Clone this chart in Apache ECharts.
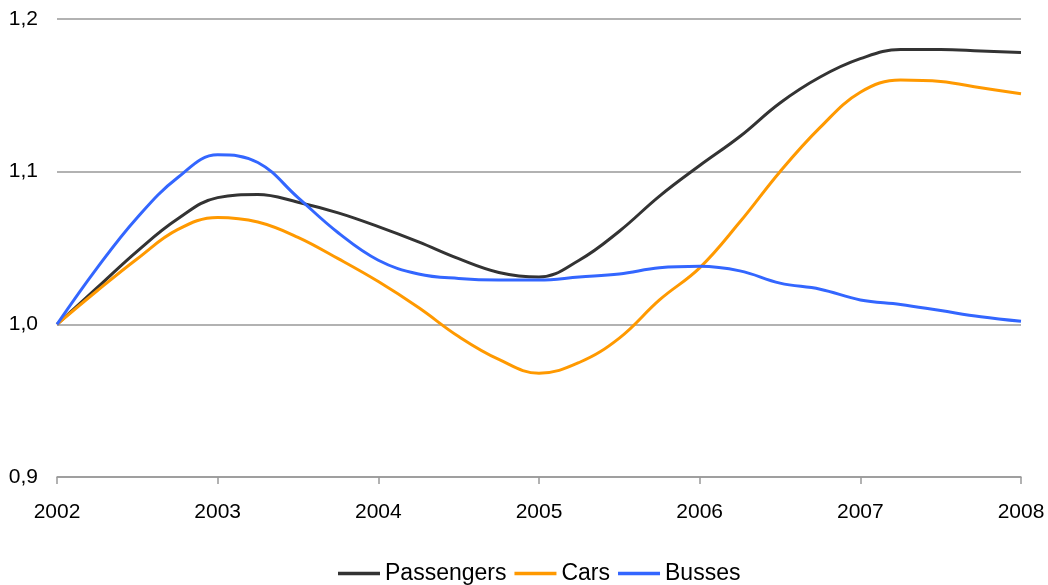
<!DOCTYPE html>
<html>
<head>
<meta charset="utf-8">
<script src="https://cdn.jsdelivr.net/npm/echarts@6/dist/echarts.min.js"></script>
<style>html,body{margin:0;padding:0;background:#fff}#c{width:1048px;height:585px}</style>
</head>
<body>
<div id="c"></div>
<script>
var years = [2002,2002.25,2002.5,2002.75,2003,2003.25,2003.5,2003.75,2004,2004.25,2004.5,2004.75,2005,2005.25,2005.5,2005.75,2006,2006.25,2006.5,2006.75,2007,2007.25,2007.5,2007.75,2008];
var passengers = [1.000,1.024,1.048,1.069,1.083,1.085,1.080,1.073,1.064,1.054,1.043,1.034,1.031,1.042,1.061,1.084,1.104,1.123,1.145,1.162,1.174,1.180,1.180,1.179,1.178];
var cars = [1.000,1.022,1.043,1.062,1.070,1.067,1.057,1.043,1.028,1.011,0.992,0.977,0.968,0.975,0.991,1.016,1.037,1.067,1.100,1.129,1.152,1.160,1.159,1.155,1.151];
var busses = [1.000,1.037,1.070,1.096,1.111,1.106,1.083,1.060,1.042,1.033,1.030,1.029,1.029,1.031,1.033,1.037,1.038,1.035,1.027,1.023,1.016,1.013,1.009,1.005,1.002];
var seriesNames = ['Passengers','Cars','Busses'];
var colors = ['#333333','#FF9900','#3366FF'];
var yTicks = {min:0.9, max:1.2, interval:0.1};
var xTicks = {min:2002, max:2008, interval:1};

function pairs(arr){ return years.map(function(y,i){ return [y, arr[i]]; }); }
var FONT = '"Liberation Sans", Arial, sans-serif';
var chart = echarts.init(document.getElementById('c'), null, {renderer:'canvas'});
var data = [passengers, cars, busses];
chart.setOption({
  animation:false,
  backgroundColor:'#fff',
  grid:{left:57, right:27, top:19, bottom:108, containLabel:false},
  legend:{
    top:557, left:333,
    itemWidth:42, itemHeight:3.5, itemGap:8,
    icon:'rect',
    textStyle:{fontFamily:FONT, fontSize:23, color:'#000'},
    data:seriesNames
  },
  xAxis:{
    type:'value', min:xTicks.min, max:xTicks.max, interval:xTicks.interval,
    axisLine:{show:true, lineStyle:{color:'#999', width:1.5}},
    axisTick:{show:true, length:7, lineStyle:{color:'#999', width:1.5}},
    splitLine:{show:false},
    axisLabel:{margin:25, fontFamily:FONT, fontSize:21, color:'#000', formatter:function(v){return String(v);}}
  },
  yAxis:{
    type:'value', min:yTicks.min, max:yTicks.max, interval:yTicks.interval,
    axisLine:{show:false}, axisTick:{show:false},
    splitLine:{show:true, lineStyle:{color:'#999', width:1.5}},
    axisLabel:{margin:19, fontFamily:FONT, fontSize:21, color:'#000', formatter:function(v){return v.toFixed(1).replace('.', ',');}}
  },
  series: seriesNames.map(function(n,i){
    return {name:n, type:'line', data:pairs(data[i]), smooth:0.4, symbol:'none',
      lineStyle:{color:colors[i], width:3}, itemStyle:{color:colors[i]}};
  })
});
</script>
</body>
</html>
